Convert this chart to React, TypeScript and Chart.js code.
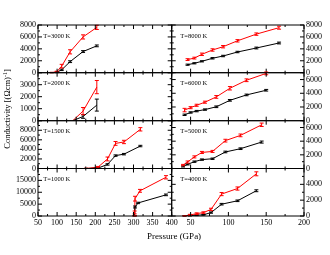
import React, { useEffect, useRef } from 'react';
import { Chart, registerables } from 'chart.js';

Chart.register(...registerables);

const WIDTH = 330;
const HEIGHT = 255;

// ---------------- Tick labels ----------------
const leftXTicks = [50, 100, 150, 200, 250, 300, 350, 400];
const rightXTicks = [50, 100, 150, 200];

// ---------------- Left column ----------------
// T=3000 K
const p3000 = [86, 99, 112, 134, 168, 204];
const red3000 = [0, 150, 1100, 3500, 6000, 7600];
const redErr3000 = [60, 100, 300, 350, 350, 350];
const blk3000 = [0, 50, 480, 1850, 3550, 4500];
const blkErr3000 = [40, 60, 120, 150, 150, 150];
const yTicks3000 = [0, 2000, 4000, 6000, 8000];

// T=2000 K
const p2000 = [141, 168, 204];
const red2000 = [0, 800, 2800];
const redErr2000 = [0, 300, 550];
const blk2000 = [0, 350, 1300];
const blkErr2000 = [0, 150, 500];
const yTicks2000 = [0, 1000, 2000, 3000];

// T=1500 K
const p1500 = [176, 207, 232, 253, 275, 318];
const red1500 = [0, 280, 2000, 5250, 5550, 8200];
const redErr1500 = [60, 150, 400, 400, 350, 350];
const blk1500 = [0, 80, 850, 2700, 3000, 4700];
const blkErr1500 = [30, 60, 150, 150, 150, 150];
const yTicks1500 = [0, 2000, 4000, 6000, 8000];

// T=1000 K
const pRed1000 = [303, 303, 304, 317, 385];
const red1000 = [0, 1500, 7300, 10600, 16300];
const redErr1000 = [200, 600, 1000, 600, 700];
const pBlk1000 = [303, 304, 312, 385];
const blk1000 = [0, 3800, 5500, 8900];
const blkErr1000 = [150, 400, 300, 350];
const yTicks1000 = [0, 5000, 10000, 15000];

// ---------------- Right column ----------------
// T=8000 K
const p8000 = [46, 55, 65, 79, 93, 112, 137, 167];
const red8000 = [2200, 2450, 3090, 3810, 4360, 5350, 6470, 7550];
const redErr8000 = [150, 150, 200, 200, 200, 200, 200, 250];
const blk8000 = [1340, 1580, 1910, 2420, 2800, 3470, 4140, 4980];
const blkErr8000 = [100, 100, 100, 120, 120, 120, 150, 150];
const yTicks8000 = [0, 2000, 4000, 6000, 8000];

// T=6000 K
const p6000 = [42, 50, 58, 69, 84, 102, 124, 150];
const red6000 = [1550, 1900, 2250, 2700, 3470, 4730, 5900, 6900];
const redErr6000 = [250, 150, 150, 150, 200, 250, 200, 200];
const blk6000 = [860, 1200, 1400, 1620, 2030, 2970, 3760, 4440];
const blkErr6000 = [100, 100, 100, 100, 120, 120, 120, 120];
const yTicks6000 = [0, 2000, 4000, 6000];

// T=5000 K
const p5000 = [40, 46, 55, 65, 79, 96, 116, 144];
const red5000 = [500, 950, 1700, 2350, 2500, 4080, 4850, 6400];
const redErr5000 = [100, 150, 150, 150, 150, 200, 200, 250];
const blk5000 = [300, 600, 1000, 1300, 1430, 2420, 2900, 3870];
const blkErr5000 = [80, 80, 100, 100, 100, 120, 120, 150];
const yTicks5000 = [0, 2000, 4000, 6000];

// T=4000 K
const p4000 = [42, 49, 58, 67, 77, 91, 112, 137];
const red4000 = [0, 130, 300, 430, 830, 2770, 3470, 5330];
const redErr4000 = [50, 80, 100, 100, 150, 200, 200, 250];
const blk4000 = [0, 40, 100, 150, 430, 1490, 1920, 3190];
const blkErr4000 = [30, 50, 50, 50, 80, 100, 100, 120];
const yTicks4000 = [0, 2000, 4000];

// ---------------- Layout ----------------
const COLS = [
  [38, 171.7],
  [171.7, 304],
];
const ROWS = [
  [25, 72.7],
  [72.7, 120.7],
  [120.7, 168.5],
  [168.5, 216],
];

const RED = '#ff0000';
const BLACK = '#000000';
const FONT = '"Liberation Serif", "Times New Roman", serif';

type Series = { x: number[]; y: number[]; err: number[]; color: string };
type PanelCfg = {
  label: string;
  col: number;
  row: number;
  yMax: number;
  yTicks: number[];
  yMinor: number;
  series: Series[];
  titles?: boolean;
};

const s = (x: number[], y: number[], err: number[], color: string): Series => ({ x, y, err, color });

const PANELS: PanelCfg[] = [
  { label: 'T=3000 K', col: 0, row: 0, yMax: 8000, yTicks: yTicks3000, yMinor: 1000,
    series: [s(p3000, blk3000, blkErr3000, BLACK), s(p3000, red3000, redErr3000, RED)] },
  { label: 'T=2000 K', col: 0, row: 1, yMax: 4000, yTicks: yTicks2000, yMinor: 500,
    series: [s(p2000, blk2000, blkErr2000, BLACK), s(p2000, red2000, redErr2000, RED)] },
  { label: 'T=1500 K', col: 0, row: 2, yMax: 10000, yTicks: yTicks1500, yMinor: 1000,
    series: [s(p1500, blk1500, blkErr1500, BLACK), s(p1500, red1500, redErr1500, RED)] },
  { label: 'T=1000 K', col: 0, row: 3, yMax: 20000, yTicks: yTicks1000, yMinor: 2500, titles: true,
    series: [s(pBlk1000, blk1000, blkErr1000, BLACK), s(pRed1000, red1000, redErr1000, RED)] },
  { label: 'T=8000 K', col: 1, row: 0, yMax: 8000, yTicks: yTicks8000, yMinor: 1000,
    series: [s(p8000, blk8000, blkErr8000, BLACK), s(p8000, red8000, redErr8000, RED)] },
  { label: 'T=6000 K', col: 1, row: 1, yMax: 7000, yTicks: yTicks6000, yMinor: 1000,
    series: [s(p6000, blk6000, blkErr6000, BLACK), s(p6000, red6000, redErr6000, RED)] },
  { label: 'T=5000 K', col: 1, row: 2, yMax: 7000, yTicks: yTicks5000, yMinor: 1000,
    series: [s(p5000, blk5000, blkErr5000, BLACK), s(p5000, red5000, redErr5000, RED)] },
  { label: 'T=4000 K', col: 1, row: 3, yMax: 6000, yTicks: yTicks4000, yMinor: 1000,
    series: [s(p4000, blk4000, blkErr4000, BLACK), s(p4000, red4000, redErr4000, RED)] },
];

const isMultiple = (v: number, step: number) => Math.abs(v / step - Math.round(v / step)) < 1e-6;

const errorBarPlugin = {
  id: 'errorBars',
  afterDatasetsDraw(chart: any) {
    const { ctx, scales } = chart;
    const xs = scales.x;
    const ys = scales.y;
    ctx.save();
    ctx.lineWidth = 1;
    chart.data.datasets.forEach((ds: any) => {
      const errs: number[] = ds.errors || [];
      ctx.strokeStyle = ds.borderColor;
      ctx.beginPath();
      ds.data.forEach((pt: any, i: number) => {
        const e = errs[i] || 0;
        if (e <= 0) return;
        const px = xs.getPixelForValue(pt.x);
        const y1 = ys.getPixelForValue(pt.y + e);
        const y2 = ys.getPixelForValue(Math.max(0, pt.y - e));
        ctx.moveTo(px, y1);
        ctx.lineTo(px, y2);
        ctx.moveTo(px - 2, y1);
        ctx.lineTo(px + 2, y1);
        ctx.moveTo(px - 2, y2);
        ctx.lineTo(px + 2, y2);
      });
      ctx.stroke();
    });
    ctx.restore();
  },
};

const framePlugin = {
  id: 'frame',
  afterDraw(chart: any, _args: any, opts: any) {
    const { ctx, chartArea: a, scales } = chart;
    const xs = scales.x;
    const ys = scales.y;
    ctx.save();
    ctx.strokeStyle = '#000';
    ctx.lineWidth = 1;
    ctx.beginPath();
    for (let v = xs.min; v <= xs.max + 1e-6; v += opts.xMinor) {
      const len = isMultiple(v, opts.xMajor) ? 4 : 2;
      const px = xs.getPixelForValue(v);
      ctx.moveTo(px, a.bottom);
      ctx.lineTo(px, a.bottom - len);
      ctx.moveTo(px, a.top);
      ctx.lineTo(px, a.top + len);
    }
    const yMajor = opts.yMajor;
    for (let v = ys.min; v <= ys.max + 1e-6; v += opts.yMinor) {
      const len = isMultiple(v, yMajor) ? 4 : 2;
      const py = ys.getPixelForValue(v);
      ctx.moveTo(a.left, py);
      ctx.lineTo(a.left + len, py);
      ctx.moveTo(a.right, py);
      ctx.lineTo(a.right - len, py);
    }
    ctx.stroke();
    ctx.strokeRect(a.left, a.top, a.right - a.left, a.bottom - a.top);

    ctx.fillStyle = '#000';
    ctx.font = `6.5px ${FONT}`;
    ctx.textAlign = 'left';
    ctx.textBaseline = 'middle';
    ctx.fillText(opts.label, a.left + opts.labelDx, a.top + 11);

    if (opts.titles) {
      ctx.font = `9px ${FONT}`;
      ctx.textAlign = 'center';
      ctx.fillText('Pressure (GPa)', 174, 237);

      ctx.translate(8, 109);
      ctx.rotate(-Math.PI / 2);
      const main = 'Conductivity [(\u03A9cm)';
      const sup = '-1';
      const end = ']';
      ctx.font = `8.5px ${FONT}`;
      const wMain = ctx.measureText(main).width;
      const wEnd = ctx.measureText(end).width;
      ctx.font = `6px ${FONT}`;
      const wSup = ctx.measureText(sup).width;
      const total = wMain + wSup + wEnd;
      let x = -total / 2;
      ctx.textAlign = 'left';
      ctx.font = `8.5px ${FONT}`;
      ctx.fillText(main, x, 0);
      x += wMain;
      ctx.font = `6px ${FONT}`;
      ctx.fillText(sup, x, -3);
      x += wSup;
      ctx.font = `8.5px ${FONT}`;
      ctx.fillText(end, x, 0);
    }
    ctx.restore();
  },
};

function Panel({ cfg }: { cfg: PanelCfg }) {
  const ref = useRef<HTMLCanvasElement | null>(null);

  useEffect(() => {
    if (!ref.current) return;
    const [left, right] = COLS[cfg.col];
    const [top, bottom] = ROWS[cfg.row];
    const isLeft = cfg.col === 0;
    const isBottom = cfg.row === ROWS.length - 1;
    const xTicks = isLeft ? leftXTicks : rightXTicks;
    const xMin = isLeft ? 50 : 25;
    const xMax = isLeft ? 400 : 200;
    const yMajor = cfg.yTicks[1] - cfg.yTicks[0];
    const yAxisWidth = isLeft ? left : WIDTH - right;
    const xAxisHeight = HEIGHT - bottom;

    const chart = new Chart(ref.current, {
      type: 'line',
      data: {
        datasets: cfg.series.map((se) => ({
          data: se.x.map((x, i) => ({ x, y: se.y[i] })),
          errors: se.err,
          borderColor: se.color,
          backgroundColor: se.color,
          borderWidth: 1,
          pointRadius: 0,
          tension: 0,
          fill: false,
        })) as any,
      },
      options: {
        responsive: false,
        animation: false,
        devicePixelRatio: 1,
        events: [],
        layout: {
          padding: {
            left: isLeft ? 0 : left,
            right: isLeft ? WIDTH - right : 0,
            top,
            bottom: 0,
          },
        },
        plugins: {
          legend: { display: false },
          tooltip: { enabled: false },
          frame: {
            label: cfg.label,
            labelDx: isLeft ? 5.3 : 8.6,
            xMinor: 25,
            xMajor: 50,
            yMinor: cfg.yMinor,
            yMajor,
            titles: !!cfg.titles,
          },
        } as any,
        scales: {
          x: {
            type: 'linear',
            position: 'bottom',
            min: xMin,
            max: xMax,
            grid: { display: false, drawTicks: false },
            border: { display: false },
            ticks: {
              display: isBottom,
              padding: 2,
              color: '#000',
              font: { family: FONT, size: 8 },
              maxRotation: 0,
              autoSkip: false,
              callback: (v: any) => String(v),
            },
            afterBuildTicks: (sc: any) => {
              sc.ticks = xTicks.map((v) => ({ value: v }));
            },
            afterFit: (sc: any) => {
              sc.height = xAxisHeight;
            },
          },
          y: {
            type: 'linear',
            position: isLeft ? 'left' : 'right',
            min: 0,
            max: cfg.yMax,
            grid: { display: false, drawTicks: false },
            border: { display: false },
            ticks: {
              padding: 2,
              color: '#000',
              font: { family: FONT, size: 8 },
              autoSkip: false,
              callback: (v: any) => String(v),
            },
            afterBuildTicks: (sc: any) => {
              sc.ticks = cfg.yTicks.map((v) => ({ value: v }));
            },
            afterFit: (sc: any) => {
              sc.width = yAxisWidth;
            },
          },
        },
      } as any,
      plugins: [errorBarPlugin, framePlugin],
    });
    return () => chart.destroy();
  }, [cfg]);

  return (
    <canvas
      ref={ref}
      width={WIDTH}
      height={HEIGHT}
      style={{ position: 'absolute', left: 0, top: 0, width: WIDTH, height: HEIGHT }}
    />
  );
}

export default function App() {
  return (
    <div
      style={{
        position: 'fixed',
        left: 0,
        top: 0,
        width: WIDTH,
        height: HEIGHT,
        background: '#fff',
        overflow: 'hidden',
      }}
    >
      {PANELS.map((p, i) => (
        <Panel key={i} cfg={p} />
      ))}
    </div>
  );
}
